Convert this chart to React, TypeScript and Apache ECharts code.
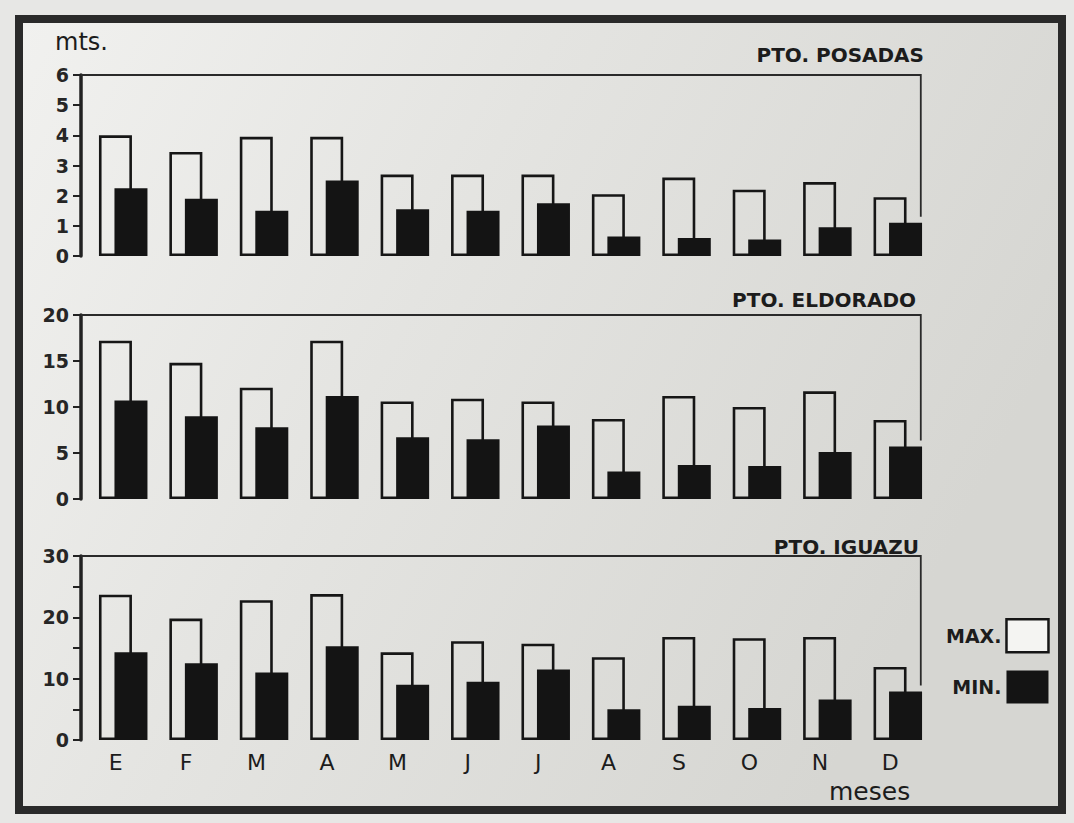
import React, { useEffect, useRef } from "react";
import * as echarts from "echarts";

// ---- data ----
const monthKeys = ["Ene", "Feb", "Mar", "Abr", "May", "Jun", "Jul", "Ago", "Sep", "Oct", "Nov", "Dic"];
const monthLabels = ["E", "F", "M", "A", "M", "J", "J", "A", "S", "O", "N", "D"];

const posadasMax = [4.0, 3.45, 3.95, 3.95, 2.7, 2.7, 2.7, 2.05, 2.6, 2.2, 2.45, 1.95];
const posadasMin = [2.25, 1.9, 1.5, 2.5, 1.55, 1.5, 1.75, 0.65, 0.6, 0.55, 0.95, 1.1];

const eldoradoMax = [17.2, 14.8, 12.1, 17.2, 10.6, 10.9, 10.6, 8.7, 11.2, 10.0, 11.7, 8.6];
const eldoradoMin = [10.7, 9.0, 7.8, 11.2, 6.7, 6.5, 8.0, 3.0, 3.7, 3.6, 5.1, 5.7];

const iguazuMax = [23.7, 19.8, 22.8, 23.8, 14.3, 16.1, 15.7, 13.5, 16.8, 16.6, 16.8, 11.9];
const iguazuMin = [14.3, 12.5, 11.0, 15.3, 9.0, 9.5, 11.5, 5.0, 5.6, 5.2, 6.6, 7.9];

const panelTitles = ["PTO. POSADAS", "PTO. ELDORADO", "PTO. IGUAZU"];
const yMaxes = [6, 20, 30];
const yIntervals = [1, 5, 5];
const yLabelSteps = [1, 5, 10];

const FONT = "DejaVu Sans";
const INK = "#1c1c1c";
const BAR_W = 33;
const BAR_GAP = "-53%";

export default function App() {
  const ref = useRef<HTMLDivElement>(null);

  useEffect(() => {
    if (!ref.current) return;
    const chart = echarts.init(ref.current, null, { renderer: "svg" });

    const grids = [
      { left: 88, width: 845, top: 75, height: 181 },
      { left: 88, width: 845, top: 315, height: 184 },
      { left: 88, width: 845, top: 556, height: 184 },
    ];

    const maxes = [posadasMax, eldoradoMax, iguazuMax];
    const mins = [posadasMin, eldoradoMin, iguazuMin];

    const xAxes = grids.map((_, i) => ({
      type: "category",
      gridIndex: i,
      data: monthKeys,
      axisLine: { show: false },
      axisTick: { show: false },
      axisLabel: {
        show: i === 2,
        formatter: (_v: string, idx: number) => monthLabels[idx],
        fontFamily: FONT,
        fontSize: 22,
        color: INK,
        margin: 11,
        padding: [0, 15, 0, 0],
      },
    }));

    const yAxes = grids.map((_, i) => ({
      type: "value",
      gridIndex: i,
      min: 0,
      max: yMaxes[i],
      interval: yIntervals[i],
      offset: 7,
      splitLine: { show: false },
      axisLine: { show: true, lineStyle: { color: "#222", width: 3.5 } },
      axisTick: { show: true, length: 8, lineStyle: { color: "#222", width: 2 } },
      axisLabel: {
        fontFamily: FONT,
        fontWeight: "bold",
        fontSize: 19,
        color: "#262626",
        margin: 12,
        formatter: (v: number) => (v % yLabelSteps[i] === 0 ? String(v) : ""),
      },
    }));

    const series: any[] = [];
    grids.forEach((_, i) => {
      series.push({
        name: "MAX.",
        type: "bar",
        xAxisIndex: i,
        yAxisIndex: i,
        data: maxes[i],
        barWidth: BAR_W,
        barGap: BAR_GAP,
        itemStyle: { color: "rgba(0,0,0,0)", borderColor: "#161616", borderWidth: 2.6 },
        z: 2,
      });
      series.push({
        name: "MIN.",
        type: "bar",
        xAxisIndex: i,
        yAxisIndex: i,
        data: mins[i],
        barWidth: BAR_W,
        barGap: BAR_GAP,
        itemStyle: { color: "#141414" },
        z: 3,
      });
      const last = mins[i].length - 1;
      series.push({
        type: "custom",
        xAxisIndex: i,
        yAxisIndex: i,
        silent: true,
        data: [[last, mins[i][last]]],
        renderItem: (params: any, api: any) => {
          const cs = params.coordSys;
          const p = api.coord([api.value(0), api.value(1)]);
          const xr = p[0] + 23;
          return {
            type: "polyline",
            shape: {
              points: [
                [cs.x - 7, cs.y],
                [xr, cs.y],
                [xr, p[1] - 6],
              ],
            },
            style: { stroke: "#2a2a2a", lineWidth: 1.8, fill: null },
          };
        },
        z: 1,
      });
    });

    const titleRight = [150, 158, 155];
    const titleTop = [45, 290, 537];

    chart.setOption({
      animation: false,
      backgroundColor: "#e7e7e5",
      title: panelTitles.map((t, i) => ({
        text: t,
        right: titleRight[i],
        top: titleTop[i],
        padding: 0,
        textStyle: { fontFamily: FONT, fontSize: 20, fontWeight: "bold", color: INK },
      })),
      legend: {
        data: [
          { name: "MAX.", itemStyle: { color: "#f4f4f2", borderColor: "#161616", borderWidth: 2.5 } },
          { name: "MIN.", itemStyle: { color: "#141414" } },
        ],
        orient: "vertical",
        left: 941,
        top: 613,
        align: "right",
        itemWidth: 42,
        itemHeight: 33,
        itemGap: 17,
        icon: "rect",
        selectedMode: false,
        textStyle: { fontFamily: FONT, fontSize: 19, fontWeight: "bold", color: INK, width: 58 },
      },
      grid: grids,
      xAxis: xAxes,
      yAxis: yAxes,
      series,
      graphic: [
        {
          type: "rect",
          z: -10,
          shape: { x: 19, y: 19, width: 1043, height: 791 },
          style: {
            fill: {
              type: "linear",
              x: 0,
              y: 0,
              x2: 1,
              y2: 0.4,
              colorStops: [
                { offset: 0, color: "#f1f1ef" },
                { offset: 0.45, color: "#e4e4e1" },
                { offset: 1, color: "#d6d6d2" },
              ],
            },
            stroke: "#2a2a2a",
            lineWidth: 8,
          },
        },
        {
          type: "text",
          left: 55,
          top: 30,
          style: { text: "mts.", fontFamily: FONT, fontSize: 24, fill: INK },
        },
        {
          type: "text",
          left: 829,
          top: 779,
          style: { text: "meses", fontFamily: FONT, fontSize: 25, fill: INK },
        },
      ],
    });

    return () => chart.dispose();
  }, []);

  return (
    <div
      ref={ref}
      style={{ position: "fixed", left: 0, top: 0, width: 1074, height: 823 }}
    />
  );
}
